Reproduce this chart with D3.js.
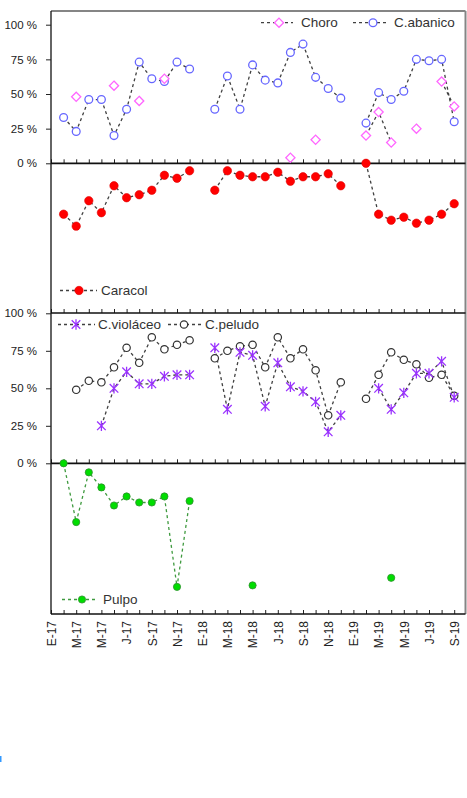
<!DOCTYPE html>
<html lang="es">
<head>
<meta charset="utf-8">
<script src="https://cdn.jsdelivr.net/npm/d3@7"></script>
<style>
body {
  margin: 0;
  background: #fff;
  font-family: 'Liberation Sans', Arial, sans-serif;
}
svg { display: block; }
text.leg { font-size: 13.5px; fill: #333; }
.yax text { font-size: 11.5px; fill: #222; }
.yax line { stroke: #222; }
.xax text { font-size: 12px; fill: #222; }
.tk line { stroke: #222; }
path.ser { fill: none; stroke: #404040; stroke-width: 1.3; stroke-dasharray: 3 3; }
</style>
</head>
<body>
<svg id="chart" width="467" height="798"></svg>
<script>
// meses (E = enero ... ) de E-17 a S-19
const months = [
  'E-17','F-17','M-17','A-17','M-17','J-17','J-17','A-17','S-17','O-17','N-17','D-17',
  'E-18','F-18','M-18','A-18','M-18','J-18','J-18','A-18','S-18','O-18','N-18','D-18',
  'E-19','F-19','M-19','A-19','M-19','J-19','J-19','A-19','S-19'
];
const tickIdx = d3.range(0, 33, 2);
const yTicks = [0, 25, 50, 75, 100];

// panel 1
const choro = [null,null,48,null,null,56,null,45,null,61,null,null,
  null,null,null,null,null,null,null,4,null,17,null,null,
  null,20,37,15,null,25,null,59,41];
const abanico = [null,33,23,46,46,20,39,73,61,59,73,68,
  null,39,63,39,71,60,58,80,86,62,54,47,
  null,29,51,46,52,75,74,75,30];
// panel 2 (eje invertido)
const caracol = [null,34,42,25,33,15,23,21,18,8,10,5,
  null,18,5,8,9,9,6,12,9,9,7,15,
  null,0,34,38,36,40,38,34,27];
// panel 3
const violaceo = [null,null,null,null,25,50,61,53,53,58,59,59,
  null,77,36,74,72,38,67,51,48,41,21,32,
  null,null,50,36,47,60,60,68,44];
const peludo = [null,null,49,55,54,64,77,67,84,76,79,82,
  null,70,75,78,79,64,84,70,76,62,32,54,
  null,43,59,74,69,66,57,59,45];
// panel 4 (eje invertido)
const pulpo = [null,0,39,6,16,28,22,26,26,22,82,25,
  null,null,null,null,81,null,null,null,null,null,null,null,
  null,null,null,76,null,null,null,null,null];

const svg = d3.select('#chart');

const pLeft = 51, pRight = 465.5, pTop = 11, pBottom = 614;

const x = d3.scaleLinear().domain([0, 32]).range([51, 454.2]);
const y1 = d3.scaleLinear().domain([0, 100]).range([163.3, 24.7]);
const y2 = d3.scaleLinear().domain([0, 100]).range([163.3, 313]);
const y3 = d3.scaleLinear().domain([0, 100]).range([463.3, 313.3]);
const y4 = d3.scaleLinear().domain([0, 100]).range([463.3, 614]);

// borders
svg.append('line').attr('x1', pLeft).attr('x2', pRight).attr('y1', pTop).attr('y2', pTop)
  .attr('stroke', '#858585').attr('stroke-width', 2);
svg.append('line').attr('x1', pRight).attr('x2', pRight).attr('y1', pTop).attr('y2', pBottom)
  .attr('stroke', '#858585').attr('stroke-width', 2);

// horizontal axes with small ticks pointing up
function hAxis(yPos, sw) {
  const g = svg.append('g').attr('class', 'tk')
    .attr('transform', `translate(0,${yPos})`)
    .call(d3.axisTop(x).tickValues(d3.range(0, 33)).tickSize(4).tickSizeOuter(0).tickFormat(''));
  g.select('.domain').remove();
  g.selectAll('line').attr('stroke-width', 1);
  svg.append('line').attr('x1', pLeft).attr('x2', pRight).attr('y1', yPos).attr('y2', yPos)
    .attr('stroke', '#111').attr('stroke-width', sw);
}
hAxis(y1(0), 1.8);
hAxis(y2(100), 1.3);
hAxis(y3(0), 1.8);
hAxis(pBottom, 1.3);

svg.append('line').attr('x1', pLeft).attr('x2', pLeft).attr('y1', pTop).attr('y2', pBottom)
  .attr('stroke', '#111').attr('stroke-width', 1.3);

// y axes
[y1, y3].forEach(s => {
  const g = svg.append('g').attr('class', 'yax')
    .attr('transform', `translate(${pLeft},0)`)
    .call(d3.axisLeft(s).tickValues(yTicks).tickSize(5).tickPadding(9).tickFormat(d => d + ' %'));
  g.select('.domain').remove();
});

// month labels
const xg = svg.append('g').attr('class', 'xax')
  .attr('transform', `translate(0,${pBottom})`)
  .call(d3.axisBottom(x).tickValues(tickIdx).tickSize(0).tickFormat(i => months[i]));
xg.select('.domain').remove();
xg.selectAll('text')
  .attr('transform', 'rotate(-90)')
  .attr('text-anchor', 'end')
  .attr('x', -7)
  .attr('y', 0)
  .attr('dy', '0.36em');

// helpers
function series(data, ys, color) {
  const line = d3.line()
    .defined(d => d != null)
    .x((d, i) => x(i))
    .y(d => ys(d));
  svg.append('path').attr('class', 'ser')
    .attr('d', line(data))
    .style('stroke', color || null);
}
function pts(data) {
  return data.map((v, i) => ({ i: i, v: v })).filter(d => d.v != null);
}
const diamond = r => `M0,${-r}L${r},0L0,${r}L${-r},0Z`;
const star = r => `M${-r},${-r}L${r},${r}M${-r},${r}L${r},${-r}M0,${-r * 1.2}L0,${r * 1.2}`;

function diamonds(g, data, ys) {
  g.selectAll(null).data(pts(data)).enter().append('path')
    .attr('transform', d => `translate(${x(d.i)},${ys(d.v)})`)
    .attr('d', diamond(4.6))
    .attr('fill', '#fff').attr('stroke', '#ff66ff').attr('stroke-width', 1.3);
}
function circles(g, data, ys, r, fill, stroke, sw) {
  g.selectAll(null).data(pts(data)).enter().append('circle')
    .attr('cx', d => x(d.i)).attr('cy', d => ys(d.v)).attr('r', r)
    .attr('fill', fill).attr('stroke', stroke).attr('stroke-width', sw);
}
function stars(g, data, ys) {
  g.selectAll(null).data(pts(data)).enter().append('path')
    .attr('transform', d => `translate(${x(d.i)},${ys(d.v)})`)
    .attr('d', star(4.3))
    .attr('fill', 'none').attr('stroke', '#9a32ff').attr('stroke-width', 1.3);
}

// lines first, markers on top
series(choro, y1);
series(abanico, y1);
series(caracol, y2);
series(violaceo, y3);
series(peludo, y3);
series(pulpo, y4, '#3f9a3f');

const mk = svg.append('g');
circles(mk, abanico, y1, 3.9, '#fff', '#6666ff', 1.3);
diamonds(mk, choro, y1);
circles(mk, caracol, y2, 4.2, '#ff0000', '#e00000', 0.6);
circles(mk, peludo, y3, 3.7, '#fff', '#333', 1.2);
stars(mk, violaceo, y3);
circles(mk, pulpo, y4, 3.6, '#00dd00', '#2f8f2f', 0.8);

// legends
function legLine(x1, x2, yy, color) {
  svg.append('line').attr('x1', x1).attr('x2', x2).attr('y1', yy).attr('y2', yy)
    .attr('stroke', color || '#404040').attr('stroke-width', 1.3).attr('stroke-dasharray', '3 3');
}
function legText(xx, yy, t) {
  svg.append('text').attr('class', 'leg').attr('x', xx).attr('y', yy).attr('dy', '0.35em').text(t);
}

legLine(261, 293, 22.7);
svg.append('path').attr('transform', 'translate(279,22.7)').attr('d', diamond(4.6))
  .attr('fill', '#fff').attr('stroke', '#ff66ff').attr('stroke-width', 1.3);
legText(301, 22.7, 'Choro');

legLine(353, 388, 22.7);
svg.append('circle').attr('cx', 373).attr('cy', 22.7).attr('r', 3.9)
  .attr('fill', '#fff').attr('stroke', '#6666ff').attr('stroke-width', 1.3);
legText(394, 22.7, 'C.abanico');

legLine(60, 97, 290.5);
svg.append('circle').attr('cx', 79).attr('cy', 290.5).attr('r', 4.2)
  .attr('fill', '#ff0000').attr('stroke', '#e00000').attr('stroke-width', 0.6);
legText(101, 290.5, 'Caracol');

legLine(58, 95, 324.5);
svg.append('path').attr('transform', 'translate(76,324.5)').attr('d', star(4.3))
  .attr('fill', 'none').attr('stroke', '#9a32ff').attr('stroke-width', 1.3);
legText(98, 324.5, 'C.violáceo');

legLine(168, 201, 324.5);
svg.append('circle').attr('cx', 184).attr('cy', 324.5).attr('r', 3.7)
  .attr('fill', '#fff').attr('stroke', '#333').attr('stroke-width', 1.2);
legText(205, 324.5, 'C.peludo');

legLine(62, 98, 599.5, '#3f9a3f');
svg.append('circle').attr('cx', 82).attr('cy', 599.5).attr('r', 3.6)
  .attr('fill', '#00dd00').attr('stroke', '#2f8f2f').attr('stroke-width', 0.8);
legText(103, 599.5, 'Pulpo');

// small blue mark at the left edge
svg.append('rect').attr('x', 0).attr('y', 756).attr('width', 1.5).attr('height', 6).attr('fill', '#3399ff');
</script>
</body>
</html>
